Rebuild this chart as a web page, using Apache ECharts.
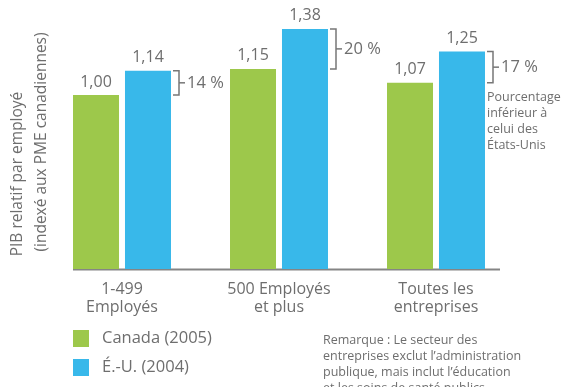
<!DOCTYPE html>
<html><head><meta charset="utf-8">
<script src="https://cdn.jsdelivr.net/npm/echarts@6/dist/echarts.min.js"></script>
<style>html,body{margin:0;padding:0;background:#fff}#c{width:564px;height:387px}</style>
</head><body><div id="c"></div>
<script>
const categories = ['1-499\nEmployés', '500 Employés\net plus', 'Toutes les\nentreprises'];
const canada = [1.00, 1.15, 1.07];
const usa = [1.14, 1.38, 1.25];
const gapLabels = ['14 %', '20 %', '17 %'];
const seriesNames = ['Canada (2005)', 'É.-U. (2004)'];

const FONT = '"Open Sans", "Noto Sans", sans-serif';
const GREY = '#6e6e6e';
const GREEN = '#9dc84b';
const BLUE = '#38b8ea';
const BAR_W = 46;

const fmt = v => v.toFixed(2).replace('.', ',');

const chart = echarts.init(document.getElementById('c'), null, {renderer: 'canvas'});
chart.setOption({
  animation: false,
  textStyle: {fontFamily: FONT},
  grid: {left: 43.5, width: 471, top: 8, height: 261},
  xAxis: {
    type: 'category', data: categories,
    axisLine: {show: false}, axisTick: {show: false},
    axisLabel: {fontSize: 16, lineHeight: 18, color: GREY, margin: 11, fontFamily: FONT}
  },
  yAxis: {type: 'value', min: 0, max: 1.5, show: false},
  legend: {
    orient: 'vertical', left: 68, top: 325, itemWidth: 16, itemHeight: 17, itemGap: 12,
    icon: 'rect',
    textStyle: {fontSize: 16.5, color: GREY, fontFamily: FONT, padding: [0, 0, 0, 8]},
    data: seriesNames
  },
  series: [
    {
      name: seriesNames[0], type: 'bar', data: canada, barWidth: BAR_W, barGap: '13%',
      itemStyle: {color: GREEN},
      label: {show: true, position: 'top', distance: 5, fontSize: 16, color: GREY, fontFamily: FONT,
        formatter: p => fmt(p.value)}
    },
    {
      name: seriesNames[1], type: 'bar', data: usa, barWidth: BAR_W,
      itemStyle: {color: BLUE},
      label: {show: true, position: 'top', distance: 5, fontSize: 16, color: GREY, fontFamily: FONT,
        formatter: p => fmt(p.value)}
    },
    {
      type: 'custom', silent: true, z: 5,
      data: categories.map((c, i) => [i, canada[i], usa[i]]),
      renderItem: (params, api) => {
        const i = api.value(0);
        const pc = api.coord([i, api.value(1)]);
        const pu = api.coord([i, api.value(2)]);
        const xr = pc[0] + 3 + BAR_W + 2;
        const xv = xr + 6;
        const yTop = pu[1], yBot = pc[1], mid = (yTop + yBot) / 2;
        const st = {stroke: '#777', lineWidth: 1.5, fill: null};
        return {
          type: 'group',
          children: [
            {type: 'polyline', shape: {points: [[xr, yTop], [xv, yTop], [xv, yBot], [xr, yBot]]}, style: st},
            {type: 'line', shape: {x1: xv, y1: mid, x2: xv + 6, y2: mid}, style: st},
            {type: 'text', x: xv + 8, y: mid,
              style: {text: gapLabels[i], fontSize: 16.5, fill: GREY, fontFamily: FONT, verticalAlign: 'middle', align: 'left'}}
          ]
        };
      }
    }
  ],
  graphic: [
    {type: 'line', shape: {x1: 73, y1: 269.5, x2: 500, y2: 269.5}, style: {stroke: '#858585', lineWidth: 2}},
    {type: 'text', x: 18, y: 174, rotation: Math.PI / 2,
      style: {text: 'PIB relatif par employé', fontSize: 15.5, fill: GREY, fontFamily: FONT, align: 'center', verticalAlign: 'middle'}},
    {type: 'text', x: 42, y: 142, rotation: Math.PI / 2,
      style: {text: '(indexé aux PME canadiennes)', fontSize: 15.5, fill: GREY, fontFamily: FONT, align: 'center', verticalAlign: 'middle'}},
    {type: 'text', x: 487, y: 89,
      style: {text: 'Pourcentage\ninférieur à\ncelui des\nÉtats-Unis', fontSize: 12.5, lineHeight: 16, fill: GREY, fontFamily: FONT}},
    {type: 'text', x: 323, y: 332,
      style: {text: 'Remarque : Le secteur des\nentreprises exclut l’administration\npublique, mais inclut l’éducation\net les soins de santé publics', fontSize: 12.5, lineHeight: 16, fill: GREY, fontFamily: FONT}}
  ]
});
</script></body></html>
